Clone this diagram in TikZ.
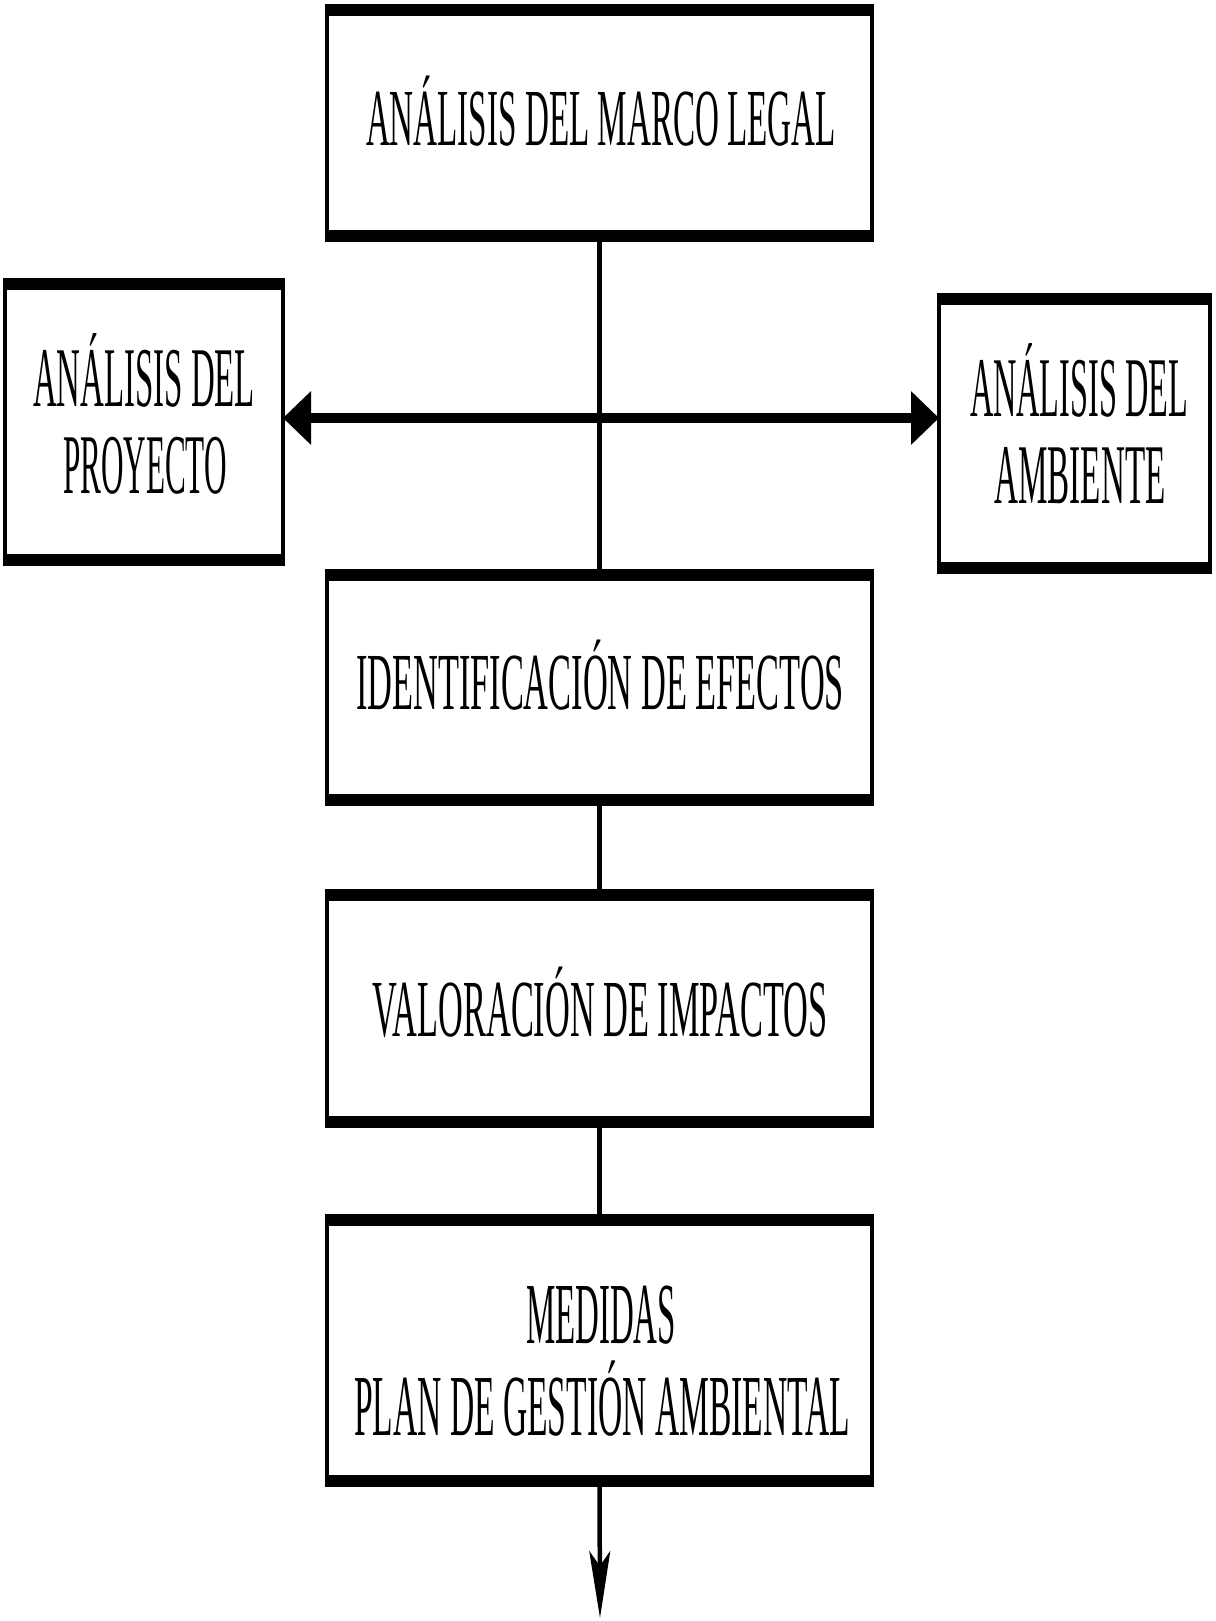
\documentclass[tikz,border=0pt]{standalone}
\usepackage{fontspec}
\setmainfont{Liberation Serif}
\usepackage{graphicx}
\usetikzlibrary{arrows.meta}
\newcommand\fitw[3]{{\fontsize{#1}{#1}\selectfont\resizebox{#2}{\height}{#3}}}
\tikzset{
  box/.style={draw, line width=4.5pt, inner sep=0pt, outer sep=0pt, fill=white},
  edge/.style={line width=12pt, line cap=butt, shorten <=-2.25pt, shorten >=-2.25pt},
  conn/.style={line width=4.5pt},
  harrow/.style={line width=10pt, {Triangle[length=28pt,width=52pt]}-{Triangle[length=28pt,width=52pt]}},
  downarrow/.style={line width=4.5pt, -{Stealth[length=67pt,width=21pt,inset=15pt]}},
  lbl/.style={inner sep=0pt, outer sep=0pt, anchor=base, text=black}
}
\begin{document}
\begin{tikzpicture}[x=1pt, y=-1pt]
\useasboundingbox (0,0) rectangle (1215,1621);
% boxes
\node[box, minimum width=545pt, minimum height=226pt] (b1) at (599.5,123) {};
\node[box, minimum width=278pt, minimum height=276pt] (lp) at (144,422) {};
\node[box, minimum width=271pt, minimum height=269pt] (ra) at (1074.5,433.5) {};
\node[box, minimum width=545pt, minimum height=225pt] (id) at (599.5,687.5) {};
\node[box, minimum width=545pt, minimum height=227pt] (va) at (599.5,1008.5) {};
\node[box, minimum width=545pt, minimum height=261pt] (me) at (599.5,1350.5) {};
\foreach \n in {b1,lp,ra,id,va,me} {
  \draw[edge] (\n.north west) -- (\n.north east);
  \draw[edge] (\n.south west) -- (\n.south east);
}
% connectors
\coordinate (hm) at (600,418);
\coordinate (endp) at (600,1618);
\draw[conn] (b1.south) -- (id.north);
\draw[conn] (id.south) -- (va.north);
\draw[conn] (va.south) -- (me.north);
\draw[downarrow] (me.south) -- (endp);
\draw[harrow] (hm -| lp.east) -- (hm -| ra.west);
% labels
\node[lbl] (t1) at (601,146) {\fitw{81pt}{470pt}{ANÁLISIS DEL MARCO LEGAL}};
\node[lbl] (l1) at (144,406) {\fitw{85pt}{222pt}{ANÁLISIS DEL}};
\node[lbl] (l2) at (145,493) {\fitw{85pt}{164pt}{PROYECTO}};
\node[lbl] (r1) at (1079,416) {\fitw{85pt}{218pt}{ANÁLISIS DEL}};
\node[lbl] (r2) at (1080,503) {\fitw{85pt}{171pt}{AMBIENTE}};
\node[lbl] (t2) at (600,709) {\fitw{81pt}{488pt}{IDENTIFICACIÓN DE EFECTOS}};
\node[lbl] (t3) at (600,1036) {\fitw{81pt}{455pt}{VALORACIÓN DE IMPACTOS}};
\node[lbl] (t4) at (601,1343) {\fitw{87pt}{150pt}{MEDIDAS}};
\node[lbl] (t5) at (602,1435) {\fitw{87pt}{496pt}{PLAN DE GESTIÓN AMBIENTAL}};
\end{tikzpicture}
\end{document}
